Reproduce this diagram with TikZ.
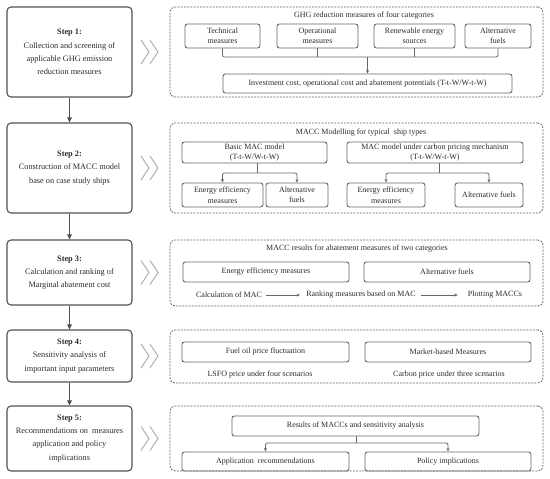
\documentclass[tikz,border=0pt]{standalone}
\usepackage{fontspec}
\setmainfont{Liberation Serif}
\usetikzlibrary{arrows.meta}
\definecolor{txt}{HTML}{2A2A2A}
\definecolor{edge}{HTML}{505050}
\definecolor{inedge}{HTML}{666666}
\definecolor{dash}{HTML}{666666}
\definecolor{chev}{HTML}{A8A8A8}
\begin{document}
\begin{tikzpicture}[x=1pt,y=-1pt,
  every node/.style={text=txt,font=\fontsize{8}{10}\selectfont},
  stepbox/.style={draw=edge,line width=1.1pt,rounded corners=4pt,minimum width=125pt,inner sep=0pt,align=center,font=\fontsize{8.3}{13.2}\selectfont},
  groupbox/.style={draw=dash,line width=0.8pt,dashed,dash pattern=on 2pt off 1.2pt,rounded corners=5pt,minimum width=373pt,inner sep=0pt},
  inbox/.style={draw=inedge,line width=0.9pt,rounded corners=2.5pt,inner sep=0pt,align=center,font=\fontsize{8}{10.5}\selectfont},
  plain/.style={inner sep=0pt,font=\fontsize{8}{10}\selectfont},
  flow/.style={draw=edge,line width=1.2pt,-{Triangle[length=5pt,width=4.5pt]}},
  brk/.style={draw=inedge,line width=0.8pt,rounded corners=2pt},
  brka/.style={draw=inedge,line width=0.8pt,rounded corners=2pt,-{Stealth[length=3.5pt,width=3pt]}},
  chevron/.style={draw=chev,line width=0.9pt}
]
\useasboundingbox (0,0) rectangle (550,479);
% ---------- step boxes ----------
\node[stepbox,minimum height=90pt] (s1) at (69.5,52) {\textbf{Step 1:}\\Collection and screening of\\applicable GHG emission\\reduction measures};
\node[stepbox,minimum height=90pt] (s2) at (69.5,168) {\textbf{Step 2:}\\Construction of MACC model\\base on case study ships};
\node[stepbox,minimum height=65pt] (s3) at (69.5,272.5) {\textbf{Step 3:}\\Calculation and ranking of\\Marginal abatement cost};
\node[stepbox,minimum height=52pt] (s4) at (69.5,356) {\textbf{Step 4:}\\Sensitivity analysis of\\important input parameters};
\node[stepbox,minimum height=65pt] (s5) at (69.5,438.5) {\textbf{Step 5:}\\Recommendations on~ measures\\application and policy\\implications};
\draw[flow] (s1) -- (s2);
\draw[flow] (s2) -- (s3);
\draw[flow] (s3) -- (s4);
\draw[flow] (s4) -- (s5);
% ---------- dashed group boxes ----------
\node[groupbox,minimum height=90pt] (d1) at (356.5,52) {};
\node[groupbox,minimum height=90pt] (d2) at (356.5,168) {};
\node[groupbox,minimum height=66pt] (d3) at (356.5,273) {};
\node[groupbox,minimum height=53pt] (d4) at (356.5,356.5) {};
\node[groupbox,minimum height=65pt] (d5) at (356.5,438.5) {};
% ---------- chevrons ----------
\foreach \yy in {52,168,272.5,356,438.5}{
  \draw[chevron] (141,\yy-12) -- (149,\yy) -- (141,\yy+12);
  \draw[chevron] (150,\yy-12) -- (158,\yy) -- (150,\yy+12);
}
% ---------- group 1 ----------
\node[plain] (g1t) at (364,16) {GHG reduction measures of four categories};
\node[inbox,minimum width=75pt,minimum height=24pt] (t1) at (222.5,36) {Technical\\measures};
\node[inbox,minimum width=81pt,minimum height=24pt] (t2) at (317.5,36) {Operational\\measures};
\node[inbox,minimum width=81pt,minimum height=24pt] (t3) at (414.5,36) {Renewable energy\\sources};
\node[inbox,minimum width=66pt,minimum height=24pt] (t4) at (498,36) {Alternative\\fuels};
\node[inbox,minimum width=289pt,minimum height=19pt] (inv) at (367.5,83.5) {Investment cost, operational cost and abatement potentials (T-t-W/W-t-W)};
\coordinate (j1) at (367.5,57);
\draw[brk] (t1.south) |- (j1);
\draw[brk] (t4.south) |- (j1);
\draw[brk] (t2.south) -- (t2.south |- j1);
\draw[brk] (t3.south) -- (t3.south |- j1);
\draw[brka] (j1) -- (inv.north);
% ---------- group 2 ----------
\node[plain] (g2t) at (361,133) {MACC Modelling for typical~ ship types};
\node[inbox,minimum width=145pt,minimum height=21pt] (b1) at (254.5,152.5) {Basic MAC model\\(T-t-W/W-t-W)};
\node[inbox,minimum width=176pt,minimum height=21pt] (b2) at (435,152.5) {MAC model under carbon pricing mechanism\\(T-t-W/W-t-W)};
\node[inbox,minimum width=81pt,minimum height=24pt] (e1) at (222.5,195) {Energy efficiency\\measures};
\node[inbox,minimum width=62pt,minimum height=24pt] (a1) at (297,195) {Alternative\\fuels};
\node[inbox,minimum width=78pt,minimum height=24pt] (e2) at (386,195) {Energy efficiency\\measures};
\node[inbox,minimum width=68pt,minimum height=24pt] (a2) at (489,195) {Alternative fuels};
\coordinate (j2) at (257,173);
\coordinate (j3) at (439,173);
\draw[brk] (b1.south -| j2) -- (j2);
\draw[brka] (j2) -| (e1.north);
\draw[brka] (j2) -| (a1.north);
\draw[brk] (b2.south -| j3) -- (j3);
\draw[brka] (j3) -| (e2.north);
\draw[brka] (j3) -| (a2.north);
% ---------- group 3 ----------
\node[plain] (g3t) at (357,249) {MACC results for abatement measures of two categories};
\node[inbox,minimum width=166pt,minimum height=20pt] (m1) at (266,272) {Energy efficiency measures};
\node[inbox,minimum width=166pt,minimum height=20pt] (m2) at (447,272) {Alternative fuels};
\node[plain] (c1) at (229,295) {Calculation of MAC};
\node[plain] (c2) at (361,295) {Ranking measures based on MAC};
\node[plain] (c3) at (495,295) {Plotting MACCs};
\draw[brka] ([xshift=4pt]c1.east) -- ([xshift=-6pt]c2.west);
\draw[brka] ([xshift=5pt]c2.east) -- ([xshift=-10pt]c3.west);
% ---------- group 4 ----------
\node[inbox,minimum width=167pt,minimum height=20pt] (f1) at (265.5,352) {Fuel oil price fluctuation};
\node[inbox,minimum width=166pt,minimum height=20pt] (f2) at (448,352) {Market-based Measures};
\node[plain] (l1) at (260,375) {LSFO price under four scenarios};
\node[plain] (l2) at (449,375) {Carbon price under three scenarios};
% ---------- group 5 ----------
\node[inbox,minimum width=247pt,minimum height=20pt] (r) at (355.5,426) {Results of MACCs and sensitivity analysis};
\node[inbox,minimum width=167pt,minimum height=19pt] (ap) at (265.5,461.5) {Application~ recommendations};
\node[inbox,minimum width=166pt,minimum height=19pt] (po) at (448,461.5) {Policy implications};
\coordinate (j5) at (356,443);
\draw[brk] (r.south -| j5) -- (j5);
\draw[brka] (j5) -| (ap.north);
\draw[brka] (j5) -| (po.north);
\end{tikzpicture}
\end{document}
